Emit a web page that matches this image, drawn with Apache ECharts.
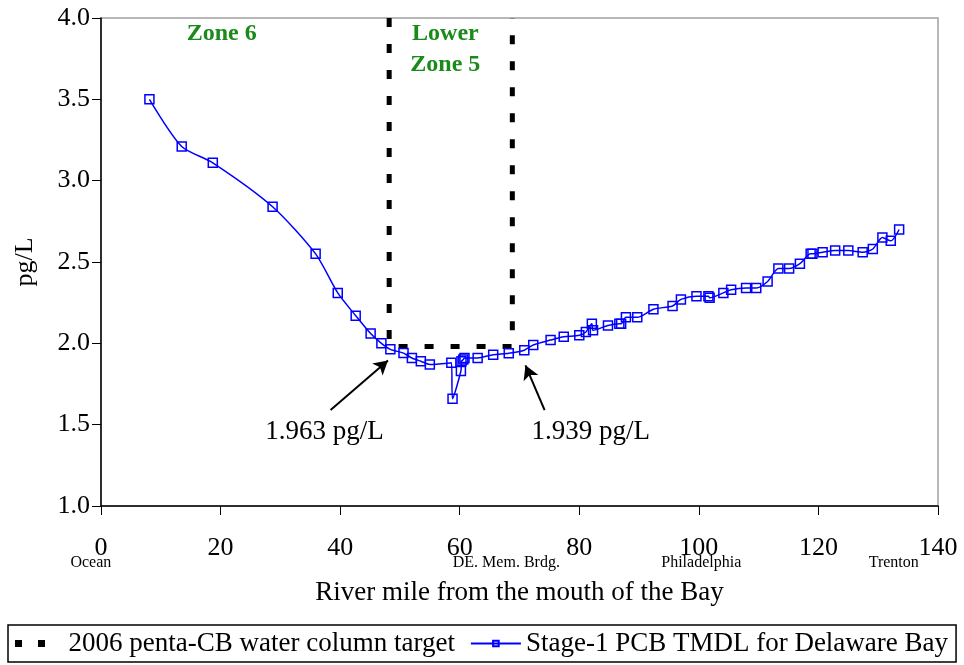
<!DOCTYPE html>
<html>
<head>
<meta charset="utf-8">
<script src="https://cdn.jsdelivr.net/npm/echarts@6/dist/echarts.min.js"></script>
<style>
  html, body { margin: 0; padding: 0; background: #fff; }
  #main { width: 964px; height: 665px; }
</style>
</head>
<body>
<div id="main"></div>
<script>
// river mile (x) and penta-CB concentration in pg/L (y)
const riverMile = [8.1, 13.5, 18.7, 28.7, 35.9, 39.6, 42.6, 45.1, 46.9, 48.4,
  50.6, 52.0, 53.5, 55.0, 58.6, 58.8, 60.2, 60.3, 60.6, 60.8,
  63.0, 65.6, 68.2, 70.8, 72.3, 75.2, 77.4, 80.0, 81.1, 82.1,
  82.3, 84.8, 86.7, 87.0, 87.8, 89.7, 92.4, 95.6, 97.0, 99.6,
  101.6, 101.8, 104.1, 105.4, 107.9, 109.6, 111.5, 113.3, 115.1, 116.9,
  118.7, 119.0, 120.7, 122.8, 125.0, 127.4, 129.1, 130.7, 132.1, 133.5];
const pcbConc = [3.50, 3.21, 3.11, 2.84, 2.55, 2.31, 2.17, 2.06, 2.00, 1.963,
  1.94, 1.91, 1.89, 1.87, 1.88, 1.66, 1.83, 1.89, 1.90, 1.91,
  1.91, 1.93, 1.939, 1.958, 1.99, 2.02, 2.04, 2.05, 2.07, 2.12,
  2.08, 2.11, 2.12, 2.12, 2.16, 2.16, 2.21, 2.23, 2.27, 2.29,
  2.29, 2.28, 2.31, 2.33, 2.34, 2.34, 2.38, 2.46, 2.46, 2.49,
  2.55, 2.55, 2.56, 2.57, 2.57, 2.56, 2.58, 2.65, 2.63, 2.70];

// 2006 target box (dashed)
const targetMile = [48.2, 48.2, 68.8, 68.8];
const targetConc = [4.0, 1.98, 1.98, 4.0];

// place names under the x axis
const placeNames = ['Ocean', 'DE. Mem. Brdg.', 'Philadelphia', 'Trenton'];
const placeMiles = [-1.7, 67.8, 100.4, 132.6];

// zone labels
const zoneLabels = ['Zone 6', 'Lower\nZone 5'];
const zoneMiles = [20.2, 57.6];

// annotations: text, text position, arrow start, arrow end
const noteTexts = ['1.963 pg/L', '1.939 pg/L'];
const noteAt = [[37.4, 1.455], [81.9, 1.455]];
const arrowFrom = [[38.4, 1.59], [74.2, 1.59]];
const arrowTo = [[48.0, 1.895], [71.0, 1.865]];

const serif = '"Liberation Serif", "Times New Roman", serif';
const targetName = '2006 penta-CB water column target';
const modelName = 'Stage-1 PCB TMDL for Delaware Bay';

const chart = echarts.init(document.getElementById('main'));

const option = {
  backgroundColor: '#fff',
  animation: false,
  textStyle: { fontFamily: serif, color: '#000' },
  grid: {
    left: 101, right: 26, top: 18, bottom: 159,
    show: true, borderColor: '#a0a0a0', borderWidth: 1.5
  },
  legend: {
    left: 8, top: 625,
    data: [
      { name: targetName, icon: 'path://M0,0h7v7h-7zM23,0h7v7h-7zM47,3h0.01v1h-0.01z' },
      { name: modelName }
    ],
    itemWidth: 50, itemHeight: 7, itemGap: 15,
    borderColor: '#000', borderWidth: 1.5,
    padding: [5, 8, 5, 7],
    textStyle: { fontFamily: serif, fontSize: 27, color: '#000' }
  },
  xAxis: {
    type: 'value', min: 0, max: 140, interval: 20,
    name: 'River mile from the mouth of the Bay',
    nameLocation: 'middle', nameGap: 73,
    nameTextStyle: { fontFamily: serif, fontSize: 27, color: '#000' },
    axisLine: { lineStyle: { color: '#000', width: 1.5 } },
    axisTick: { inside: false, length: 9, lineStyle: { color: '#000', width: 1 } },
    axisLabel: { margin: 29, fontFamily: serif, fontSize: 26, color: '#000' },
    splitLine: { show: false }
  },
  yAxis: {
    type: 'value', min: 1, max: 4, interval: 0.5,
    name: 'pg/L', nameLocation: 'middle', nameGap: 63, nameRotate: 90,
    nameTextStyle: { fontFamily: serif, fontSize: 26, color: '#000' },
    axisLine: { show: true, lineStyle: { color: '#000', width: 1.5 } },
    axisTick: { show: true, length: 9, lineStyle: { color: '#000', width: 1 } },
    axisLabel: { margin: 11, fontFamily: serif, fontSize: 26, color: '#000',
      formatter: v => v.toFixed(1) },
    splitLine: { show: false }
  },
  series: [
    {
      name: targetName,
      type: 'line',
      data: targetMile.map((m, i) => [m, targetConc[i]]),
      showSymbol: false, symbol: 'none',
      lineStyle: { color: '#000', width: 5, type: [9, 17] },
      itemStyle: { color: '#000' },
      z: 3
    },
    {
      name: modelName,
      type: 'line',
      data: riverMile.map((m, i) => [m, pcbConc[i]]),
      smooth: 0.25,
      symbol: 'rect', symbolSize: 9,
      lineStyle: { color: '#0000ff', width: 1.5 },
      itemStyle: { color: 'rgba(255,255,255,0)', borderColor: '#0000ff', borderWidth: 1.5 },
      z: 4,
      markLine: {
        silent: true, animation: false,
        symbol: ['none', 'arrow'], symbolSize: [12, 14],
        label: { show: false },
        lineStyle: { color: '#000', width: 2, type: 'solid' },
        data: arrowFrom.map((p, i) => [{ coord: p }, { coord: arrowTo[i] }])
      }
    }
  ]
};

chart.setOption(option);

const px = (x, y) => chart.convertToPixel({ gridIndex: 0 }, [x, y]);
const graphics = [];

zoneLabels.forEach((t, i) => {
  const p = px(zoneMiles[i], 4.0);
  graphics.push({
    type: 'text', x: p[0], y: p[1],
    style: { text: t, fill: '#1a8a1a', font: 'bold 24px ' + serif,
      align: 'center', verticalAlign: 'top', lineHeight: 31 }
  });
});

noteTexts.forEach((t, i) => {
  const p = px(noteAt[i][0], noteAt[i][1]);
  graphics.push({
    type: 'text', x: p[0], y: p[1],
    style: { text: t, fill: '#000', font: '27px ' + serif,
      align: 'center', verticalAlign: 'middle' }
  });
});

placeNames.forEach((t, i) => {
  const p = px(placeMiles[i], 1.0);
  graphics.push({
    type: 'text', x: p[0], y: p[1] + 57,
    style: { text: t, fill: '#000', font: '16px ' + serif,
      align: 'center', verticalAlign: 'middle' }
  });
});

chart.setOption({ graphic: graphics });
</script>
</body>
</html>
